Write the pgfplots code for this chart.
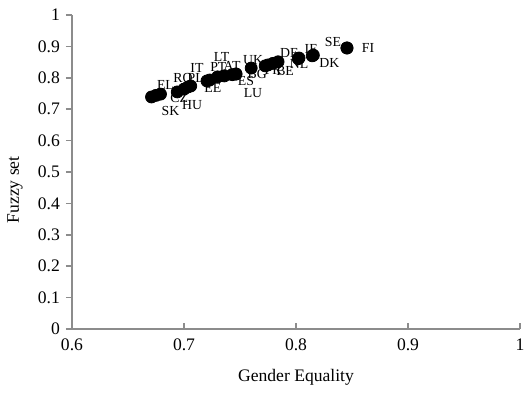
\documentclass[border=0pt]{standalone}
\usepackage{pgfplots}
\pgfplotsset{compat=1.18}
\usepackage{pgfplotstable}
\usepackage{fontspec}
\setmainfont{Liberation Serif}

\pgfplotstableread{
x y
0.8455 0.895
0.8455 0.895
0.8155 0.872
0.8145 0.870
0.8027 0.863
0.8020 0.861
0.784 0.851
0.7795 0.846
0.775 0.841
0.7725 0.838
0.760 0.831
0.7464 0.812
0.7464 0.812
0.743 0.810
0.736 0.806
0.730 0.803
0.723 0.793
0.7205 0.790
0.706 0.774
0.7036 0.771
0.700 0.764
0.694 0.755
0.679 0.748
0.675 0.744
0.671 0.739
}\pts

\pgfplotstableread{
x y lab dx dy
0.8455 0.895 FI 10.5 0
0.8455 0.895 SE -7 3
0.8155 0.872 DK 8 -4
0.8145 0.870 IE -0.5 3.5
0.8027 0.863 NL 0 -3
0.8020 0.861 DE -4.5 3
0.784 0.851 BE 3.5 -4.5
0.7795 0.846 FR 0 -3.5
0.7725 0.838 BG -4 -4
0.760 0.831 UK 1 4
0.7464 0.812 ES 5 -3.5
0.7464 0.812 LU 8.5 -9.5
0.743 0.810 AT 0 4.5
0.736 0.806 PT -3 4.5
0.730 0.803 LT 2 10
0.723 0.793 EE 1.5 -4
0.7205 0.790 IT -5 6.5
0.706 0.774 PL 2.5 4
0.700 0.764 RO -0.5 5.5
0.7036 0.771 HU 2 -9
0.694 0.755 CZ 1 -3
0.679 0.748 EL 2.5 4.5
0.671 0.739 SK 9.5 -7
}\labs

\begin{document}
\begin{tikzpicture}
\begin{axis}[
  name=ax,
  scale only axis=true,
  width=224pt, height=157pt,
  xmin=0.6, xmax=1, ymin=0, ymax=1,
  axis x line=bottom, axis y line=left,
  axis line style={-, draw=black!45, line width=0.8pt},
  tick style={draw=black!45, line width=0.8pt},
  xtick={0.6,0.7,0.8,0.9,1},
  ytick={0,0.1,0.2,0.3,0.4,0.5,0.6,0.7,0.8,0.9,1},
  xtick align=inside, ytick align=outside,
  major tick length=3pt,
  xticklabel style={yshift=-1.5pt},
  yticklabel style={xshift=0.5pt},
  /pgf/number format/assume math mode=true,
  ticklabel style={font=\fontsize{8.8}{10}\selectfont},
  label style={font=\fontsize{8.8}{10}\selectfont},
  xlabel={Gender Equality},
  ylabel={Fuzzy set},
  xlabel style={at={(axis description cs:0.5,0)}, anchor=center, yshift=-24pt},
  ylabel style={at={(axis description cs:-0.127,0.443)}, anchor=center},
  clip=false,
]
\addplot[draw=none, mark=none,
  point meta=explicit symbolic,
  visualization depends on={\thisrow{dx}\as\dx},
  visualization depends on={\thisrow{dy}\as\dy},
  nodes near coords,
  nodes near coords style={anchor=center, inner sep=0pt, xshift=\dx pt, yshift=\dy pt, font=\fontsize{6.9}{8}\selectfont, text=black},
] table[meta=lab] {\labs};
\addplot[only marks, mark=*, mark size=3pt, black] table {\pts};
\end{axis}
\pgfresetboundingbox
\path[use as bounding box] ([xshift=-36pt,yshift=-31.5pt]ax.south west) rectangle ([xshift=2pt,yshift=7.5pt]ax.north east);
\end{tikzpicture}
\end{document}
